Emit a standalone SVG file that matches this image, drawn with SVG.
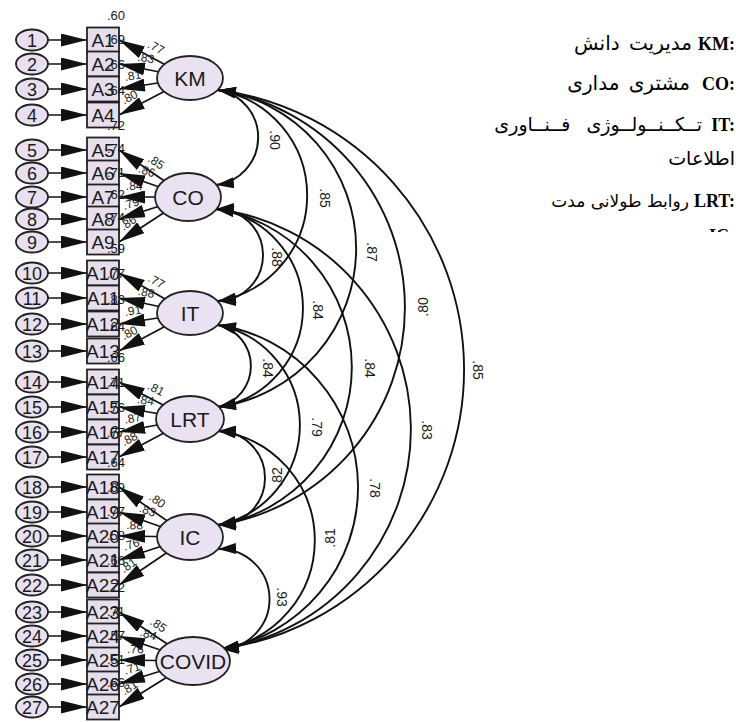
<svg xmlns="http://www.w3.org/2000/svg" width="736" height="722" viewBox="0 0 736 722">
<style>
text{font-family:"Liberation Sans",Arial,sans-serif;fill:#1a1a1a}
.err{fill:#E8E0F0;stroke:#222;stroke-width:1.8}
.box{fill:#E6DEED;stroke:#222;stroke-width:1.8}
.lat{fill:#EAE2F2;stroke:#222;stroke-width:1.8}
.num{font-size:18px;text-anchor:middle}
.bl{font-size:19px;text-anchor:middle}
.r2{font-size:13px;text-anchor:middle}
.ll{font-size:21px;text-anchor:middle}
.ld{font-size:12px;text-anchor:middle;dominant-baseline:central}
.cv{font-size:14px;text-anchor:middle;dominant-baseline:central}
.ea{stroke:#111;stroke-width:1.7;marker-end:url(#ah)}
.la{stroke:#111;stroke-width:1.7;marker-end:url(#ah)}
.arc{fill:none;stroke:#111;stroke-width:1.9;marker-start:url(#ah2);marker-end:url(#ah2)}
.lk{font-family:"Liberation Serif","Times New Roman",serif;font-weight:bold;font-size:18px;text-anchor:end;fill:#000}
.lp{font-family:"DejaVu Sans",sans-serif;text-anchor:end;fill:#000}
</style>
<defs>
<marker id="ah" viewBox="0 0 26 13" refX="26" refY="6.5" markerWidth="26" markerHeight="13" markerUnits="userSpaceOnUse" orient="auto"><path d="M0,0 L26,6.5 L0,13 z" fill="#111"/></marker>
<marker id="ah2" viewBox="0 0 18 11" refX="18" refY="5.5" markerWidth="18" markerHeight="11" markerUnits="userSpaceOnUse" orient="auto-start-reverse"><path d="M0,0 L18,5.5 L0,11 z" fill="#111"/></marker>
<clipPath id="cut"><rect x="600" y="0" width="136" height="232"/></clipPath>
</defs>
<rect width="736" height="722" fill="#fff"/>

<g id="connectors">
<line class="ea" x1="40" y1="40" x2="87" y2="40"/>
<line class="ea" x1="40" y1="64" x2="87" y2="64"/>
<line class="ea" x1="40" y1="89" x2="87" y2="89"/>
<line class="ea" x1="40" y1="115" x2="87" y2="115"/>
<line class="ea" x1="40" y1="150" x2="87" y2="150"/>
<line class="ea" x1="40" y1="173" x2="87" y2="173"/>
<line class="ea" x1="40" y1="197" x2="87" y2="197"/>
<line class="ea" x1="40" y1="219" x2="87" y2="219"/>
<line class="ea" x1="40" y1="242" x2="87" y2="242"/>
<line class="ea" x1="40" y1="273" x2="87" y2="273"/>
<line class="ea" x1="40" y1="298" x2="87" y2="298"/>
<line class="ea" x1="40" y1="324" x2="87" y2="324"/>
<line class="ea" x1="40" y1="351" x2="87" y2="351"/>
<line class="ea" x1="40" y1="382" x2="87" y2="382"/>
<line class="ea" x1="40" y1="407" x2="87" y2="407"/>
<line class="ea" x1="40" y1="432" x2="87" y2="432"/>
<line class="ea" x1="40" y1="457" x2="87" y2="457"/>
<line class="ea" x1="40" y1="487" x2="87" y2="487"/>
<line class="ea" x1="40" y1="512" x2="87" y2="512"/>
<line class="ea" x1="40" y1="536" x2="87" y2="536"/>
<line class="ea" x1="40" y1="560" x2="87" y2="560"/>
<line class="ea" x1="40" y1="585" x2="87" y2="585"/>
<line class="ea" x1="40" y1="612" x2="87" y2="612"/>
<line class="ea" x1="40" y1="636" x2="87" y2="636"/>
<line class="ea" x1="40" y1="660" x2="87" y2="660"/>
<line class="ea" x1="40" y1="684" x2="87" y2="684"/>
<line class="ea" x1="40" y1="707" x2="87" y2="707"/>

<line class="la" x1="190" y1="78" x2="119" y2="40"/>
<line class="la" x1="190" y1="78" x2="119" y2="64"/>
<line class="la" x1="190" y1="78" x2="119" y2="89"/>
<line class="la" x1="190" y1="78" x2="119" y2="115"/>
<line class="la" x1="188" y1="197" x2="119" y2="150"/>
<line class="la" x1="188" y1="197" x2="119" y2="173"/>
<line class="la" x1="188" y1="197" x2="119" y2="197"/>
<line class="la" x1="188" y1="197" x2="119" y2="219"/>
<line class="la" x1="188" y1="197" x2="119" y2="242"/>
<line class="la" x1="190" y1="313" x2="119" y2="273"/>
<line class="la" x1="190" y1="313" x2="119" y2="298"/>
<line class="la" x1="190" y1="313" x2="119" y2="324"/>
<line class="la" x1="190" y1="313" x2="119" y2="351"/>
<line class="la" x1="190" y1="419" x2="119" y2="382"/>
<line class="la" x1="190" y1="419" x2="119" y2="407"/>
<line class="la" x1="190" y1="419" x2="119" y2="432"/>
<line class="la" x1="190" y1="419" x2="119" y2="457"/>
<line class="la" x1="190" y1="537" x2="119" y2="487"/>
<line class="la" x1="190" y1="537" x2="119" y2="512"/>
<line class="la" x1="190" y1="537" x2="119" y2="536"/>
<line class="la" x1="190" y1="537" x2="119" y2="560"/>
<line class="la" x1="190" y1="537" x2="119" y2="585"/>
<line class="la" x1="193" y1="661" x2="119" y2="612"/>
<line class="la" x1="193" y1="661" x2="119" y2="636"/>
<line class="la" x1="193" y1="661" x2="119" y2="660"/>
<line class="la" x1="193" y1="661" x2="119" y2="684"/>
<line class="la" x1="193" y1="661" x2="119" y2="707"/>

<path class="arc" d="M218,90 A48,48 0 0 1 216,185"/>
<path class="arc" d="M218,90 A107,107 0 0 1 218,301"/>
<path class="arc" d="M218,90 A160,160 0 0 1 218,407"/>
<path class="arc" d="M218,90 A220,220 0 0 1 218,525"/>
<path class="arc" d="M218,90 A282,282 0 0 1 221,649"/>
<path class="arc" d="M216,209 A46,46 0 0 1 218,301"/>
<path class="arc" d="M216,209 A100,100 0 0 1 218,407"/>
<path class="arc" d="M216,209 A160,160 0 0 1 218,525"/>
<path class="arc" d="M216,209 A222,222 0 0 1 221,649"/>
<path class="arc" d="M218,325 A42,42 0 0 1 218,407"/>
<path class="arc" d="M218,325 A102,102 0 0 1 218,525"/>
<path class="arc" d="M218,325 A164,164 0 0 1 221,649"/>
<path class="arc" d="M218,431 A47,47 0 0 1 218,525"/>
<path class="arc" d="M218,431 A110,110 0 0 1 221,649"/>
<path class="arc" d="M218,549 A50,50 0 0 1 221,649"/>
</g>

<g id="errors">
<g id="e1"><ellipse class="err" cx="32" cy="40" rx="16" ry="10.5"/><text class="num" x="32" y="46.5">1</text></g>
<g id="e2"><ellipse class="err" cx="32" cy="64" rx="16" ry="10.5"/><text class="num" x="32" y="70.5">2</text></g>
<g id="e3"><ellipse class="err" cx="32" cy="89" rx="16" ry="10.5"/><text class="num" x="32" y="95.5">3</text></g>
<g id="e4"><ellipse class="err" cx="32" cy="115" rx="16" ry="10.5"/><text class="num" x="32" y="121.5">4</text></g>
<g id="e5"><ellipse class="err" cx="32" cy="150" rx="16" ry="10.5"/><text class="num" x="32" y="156.5">5</text></g>
<g id="e6"><ellipse class="err" cx="32" cy="173" rx="16" ry="10.5"/><text class="num" x="32" y="179.5">6</text></g>
<g id="e7"><ellipse class="err" cx="32" cy="197" rx="16" ry="10.5"/><text class="num" x="32" y="203.5">7</text></g>
<g id="e8"><ellipse class="err" cx="32" cy="219" rx="16" ry="10.5"/><text class="num" x="32" y="225.5">8</text></g>
<g id="e9"><ellipse class="err" cx="32" cy="242" rx="16" ry="10.5"/><text class="num" x="32" y="248.5">9</text></g>
<g id="e10"><ellipse class="err" cx="32" cy="273" rx="16" ry="10.5"/><text class="num" x="32" y="279.5">10</text></g>
<g id="e11"><ellipse class="err" cx="32" cy="298" rx="16" ry="10.5"/><text class="num" x="32" y="304.5">11</text></g>
<g id="e12"><ellipse class="err" cx="32" cy="324" rx="16" ry="10.5"/><text class="num" x="32" y="330.5">12</text></g>
<g id="e13"><ellipse class="err" cx="32" cy="351" rx="16" ry="10.5"/><text class="num" x="32" y="357.5">13</text></g>
<g id="e14"><ellipse class="err" cx="32" cy="382" rx="16" ry="10.5"/><text class="num" x="32" y="388.5">14</text></g>
<g id="e15"><ellipse class="err" cx="32" cy="407" rx="16" ry="10.5"/><text class="num" x="32" y="413.5">15</text></g>
<g id="e16"><ellipse class="err" cx="32" cy="432" rx="16" ry="10.5"/><text class="num" x="32" y="438.5">16</text></g>
<g id="e17"><ellipse class="err" cx="32" cy="457" rx="16" ry="10.5"/><text class="num" x="32" y="463.5">17</text></g>
<g id="e18"><ellipse class="err" cx="32" cy="487" rx="16" ry="10.5"/><text class="num" x="32" y="493.5">18</text></g>
<g id="e19"><ellipse class="err" cx="32" cy="512" rx="16" ry="10.5"/><text class="num" x="32" y="518.5">19</text></g>
<g id="e20"><ellipse class="err" cx="32" cy="536" rx="16" ry="10.5"/><text class="num" x="32" y="542.5">20</text></g>
<g id="e21"><ellipse class="err" cx="32" cy="560" rx="16" ry="10.5"/><text class="num" x="32" y="566.5">21</text></g>
<g id="e22"><ellipse class="err" cx="32" cy="585" rx="16" ry="10.5"/><text class="num" x="32" y="591.5">22</text></g>
<g id="e23"><ellipse class="err" cx="32" cy="612" rx="16" ry="10.5"/><text class="num" x="32" y="618.5">23</text></g>
<g id="e24"><ellipse class="err" cx="32" cy="636" rx="16" ry="10.5"/><text class="num" x="32" y="642.5">24</text></g>
<g id="e25"><ellipse class="err" cx="32" cy="660" rx="16" ry="10.5"/><text class="num" x="32" y="666.5">25</text></g>
<g id="e26"><ellipse class="err" cx="32" cy="684" rx="16" ry="10.5"/><text class="num" x="32" y="690.5">26</text></g>
<g id="e27"><ellipse class="err" cx="32" cy="707" rx="16" ry="10.5"/><text class="num" x="32" y="713.5">27</text></g>
</g>

<g id="indicators">
<g id="A1"><rect class="box" x="87" y="27.5" width="32" height="25"/><text class="bl" x="103" y="47">A1</text><text class="r2" x="116" y="20">.60</text></g>
<g id="A2"><rect class="box" x="87" y="51.5" width="32" height="25"/><text class="bl" x="103" y="71">A2</text><text class="r2" x="116" y="44">.69</text></g>
<g id="A3"><rect class="box" x="87" y="76.5" width="32" height="25"/><text class="bl" x="103" y="96">A3</text><text class="r2" x="116" y="69">.66</text></g>
<g id="A4"><rect class="box" x="87" y="102.5" width="32" height="25"/><text class="bl" x="103" y="122">A4</text><text class="r2" x="116" y="95">.64</text></g>
<g id="A5"><rect class="box" x="87" y="137.5" width="32" height="25"/><text class="bl" x="103" y="157">A5</text><text class="r2" x="116" y="130">.72</text></g>
<g id="A6"><rect class="box" x="87" y="160.5" width="32" height="25"/><text class="bl" x="103" y="180">A6</text><text class="r2" x="116" y="153">.74</text></g>
<g id="A7"><rect class="box" x="87" y="184.5" width="32" height="25"/><text class="bl" x="103" y="204">A7</text><text class="r2" x="116" y="177">.71</text></g>
<g id="A8"><rect class="box" x="87" y="206.5" width="32" height="25"/><text class="bl" x="103" y="226">A8</text><text class="r2" x="116" y="199">.62</text></g>
<g id="A9"><rect class="box" x="87" y="229.5" width="32" height="25"/><text class="bl" x="103" y="249">A9</text><text class="r2" x="116" y="222">.74</text></g>
<g id="A10"><rect class="box" x="87" y="260.5" width="32" height="25"/><text class="bl" x="103" y="280">A10</text><text class="r2" x="116" y="253">.59</text></g>
<g id="A11"><rect class="box" x="87" y="285.5" width="32" height="25"/><text class="bl" x="103" y="305">A11</text><text class="r2" x="116" y="278">.77</text></g>
<g id="A12"><rect class="box" x="87" y="311.5" width="32" height="25"/><text class="bl" x="103" y="331">A12</text><text class="r2" x="116" y="304">.83</text></g>
<g id="A13"><rect class="box" x="87" y="338.5" width="32" height="25"/><text class="bl" x="103" y="358">A13</text><text class="r2" x="116" y="331">.64</text></g>
<g id="A14"><rect class="box" x="87" y="369.5" width="32" height="25"/><text class="bl" x="103" y="389">A14</text><text class="r2" x="116" y="362">.66</text></g>
<g id="A15"><rect class="box" x="87" y="394.5" width="32" height="25"/><text class="bl" x="103" y="414">A15</text><text class="r2" x="116" y="387">.71</text></g>
<g id="A16"><rect class="box" x="87" y="419.5" width="32" height="25"/><text class="bl" x="103" y="439">A16</text><text class="r2" x="116" y="412">.76</text></g>
<g id="A17"><rect class="box" x="87" y="444.5" width="32" height="25"/><text class="bl" x="103" y="464">A17</text><text class="r2" x="116" y="437">.77</text></g>
<g id="A18"><rect class="box" x="87" y="474.5" width="32" height="25"/><text class="bl" x="103" y="494">A18</text><text class="r2" x="116" y="467">.64</text></g>
<g id="A19"><rect class="box" x="87" y="499.5" width="32" height="25"/><text class="bl" x="103" y="519">A19</text><text class="r2" x="116" y="492">.69</text></g>
<g id="A20"><rect class="box" x="87" y="523.5" width="32" height="25"/><text class="bl" x="103" y="543">A20</text><text class="r2" x="116" y="516">.77</text></g>
<g id="A21"><rect class="box" x="87" y="547.5" width="32" height="25"/><text class="bl" x="103" y="567">A21</text><text class="r2" x="116" y="540">.58</text></g>
<g id="A22"><rect class="box" x="87" y="572.5" width="32" height="25"/><text class="bl" x="103" y="592">A22</text><text class="r2" x="116" y="565">.66</text></g>
<g id="A23"><rect class="box" x="87" y="599.5" width="32" height="25"/><text class="bl" x="103" y="619">A23</text><text class="r2" x="116" y="592">.72</text></g>
<g id="A24"><rect class="box" x="87" y="623.5" width="32" height="25"/><text class="bl" x="103" y="643">A24</text><text class="r2" x="116" y="616">.71</text></g>
<g id="A25"><rect class="box" x="87" y="647.5" width="32" height="25"/><text class="bl" x="103" y="667">A25</text><text class="r2" x="116" y="640">.57</text></g>
<g id="A26"><rect class="box" x="87" y="671.5" width="32" height="25"/><text class="bl" x="103" y="691">A26</text><text class="r2" x="116" y="664">.51</text></g>
<g id="A27"><rect class="box" x="87" y="694.5" width="32" height="25"/><text class="bl" x="103" y="714">A27</text><text class="r2" x="116" y="687">.66</text></g>
</g>

<g id="latents">
<g id="KM"><ellipse class="lat" cx="190" cy="78" rx="33" ry="22"/><text class="ll" x="190" y="85.5">KM</text></g>
<g id="CO"><ellipse class="lat" cx="188" cy="197" rx="33" ry="24"/><text class="ll" x="188" y="204.5">CO</text></g>
<g id="IT"><ellipse class="lat" cx="190" cy="313" rx="33" ry="22"/><text class="ll" x="190" y="320.5">IT</text></g>
<g id="LRT"><ellipse class="lat" cx="190" cy="419" rx="34" ry="23"/><text class="ll" x="190" y="426.5">LRT</text></g>
<g id="IC"><ellipse class="lat" cx="190" cy="537" rx="33" ry="23"/><text class="ll" x="190" y="544.5">IC</text></g>
<g id="COVID"><ellipse class="lat" cx="193" cy="661" rx="37" ry="24"/><text class="ll" x="193" y="668.5">COVID</text></g>
</g>

<g id="loading-labels">
<text class="ld" transform="translate(156.1,47.4) rotate(28.2)">.77</text>
<text class="ld" transform="translate(146,58.1) rotate(11.2)">.83</text>
<text class="ld" transform="translate(132.9,75.7) rotate(-8.8)">.81</text>
<text class="ld" transform="translate(129.5,97.1) rotate(-27.5)">.80</text>
<text class="ld" transform="translate(156.2,162.1) rotate(34.3)">.85</text>
<text class="ld" transform="translate(146.8,171) rotate(19.2)">.86</text>
<text class="ld" transform="translate(134.2,186)">.84</text>
<text class="ld" transform="translate(130.9,203.7) rotate(-17.7)">.79</text>
<text class="ld" transform="translate(128.2,222.9) rotate(-33.1)">.86</text>
<text class="ld" transform="translate(156.4,281.4) rotate(29.4)">.77</text>
<text class="ld" transform="translate(146.2,292.5) rotate(11.9)">.88</text>
<text class="ld" transform="translate(132.9,310.7) rotate(-8.8)">.91</text>
<text class="ld" transform="translate(129.4,332.9) rotate(-28.2)">.80</text>
<text class="ld" transform="translate(156.1,388.9) rotate(27.5)">.81</text>
<text class="ld" transform="translate(145.7,400.4) rotate(9.6)">.84</text>
<text class="ld" transform="translate(132.6,418.3) rotate(-10.4)">.87</text>
<text class="ld" transform="translate(129.4,438.9) rotate(-28.2)">.88</text>
<text class="ld" transform="translate(157.3,500.5) rotate(35.2)">.80</text>
<text class="ld" transform="translate(147.6,510.4) rotate(19.4)">.83</text>
<text class="ld" transform="translate(134.6,525.2) rotate(0.8)">.88</text>
<text class="ld" transform="translate(131.2,544.4) rotate(-17.9)">.76</text>
<text class="ld" transform="translate(128.4,565.3) rotate(-34.1)">.81</text>
<text class="ld" transform="translate(158.4,624.9) rotate(33.5)">.85</text>
<text class="ld" transform="translate(148.4,634.3) rotate(18.7)">.84</text>
<text class="ld" transform="translate(135.3,649.2) rotate(0.8)">.76</text>
<text class="ld" transform="translate(132,668.4) rotate(-17.3)">.71</text>
<text class="ld" transform="translate(129.5,687.6) rotate(-31.9)">.81</text>
</g>

<g id="covariance-labels">
<text class="cv" transform="translate(275,140) rotate(90)">.90</text>
<text class="cv" transform="translate(325,198) rotate(90)">.85</text>
<text class="cv" transform="translate(372,252) rotate(90)">.87</text>
<text class="cv" transform="translate(423,307) rotate(-90)">.80</text>
<text class="cv" transform="translate(478,370) rotate(90)">.85</text>
<text class="cv" transform="translate(277,257) rotate(90)">.88</text>
<text class="cv" transform="translate(318,310) rotate(90)">.84</text>
<text class="cv" transform="translate(370,368) rotate(90)">.84</text>
<text class="cv" transform="translate(427,430) rotate(90)">.83</text>
<text class="cv" transform="translate(268,368) rotate(90)">.84</text>
<text class="cv" transform="translate(317,427) rotate(90)">.79</text>
<text class="cv" transform="translate(375,488) rotate(90)">.78</text>
<text class="cv" transform="translate(277,477) rotate(-90)">.82</text>
<text class="cv" transform="translate(330,538) rotate(-90)">.81</text>
<text class="cv" transform="translate(282,597) rotate(90)">.93</text>
</g>

<g id="legend">
<text class="lk" x="735" y="50">KM:</text>
<text class="lp" x="692" y="50" style="font-size:20px;word-spacing:3px">مدیریت دانش</text>
<text class="lk" x="735" y="90">CO:</text>
<text class="lp" x="690" y="90" style="font-size:20px;word-spacing:3px">مشتری مداری</text>
<text class="lk" x="735" y="131">IT:</text>
<text class="lp" x="702" y="131" style="font-size:19px;word-spacing:10px">تــکــنــولــوژی فــنــاوری</text>
<text class="lp" x="735" y="165" style="font-size:19px">اطلاعات</text>
<text class="lk" x="735" y="207">LRT:</text>
<text class="lp" x="689" y="207" style="font-size:17px">روابط طولانی مدت</text>
<text class="lk" x="735" y="242" clip-path="url(#cut)">IC:</text>
</g>
</svg>
